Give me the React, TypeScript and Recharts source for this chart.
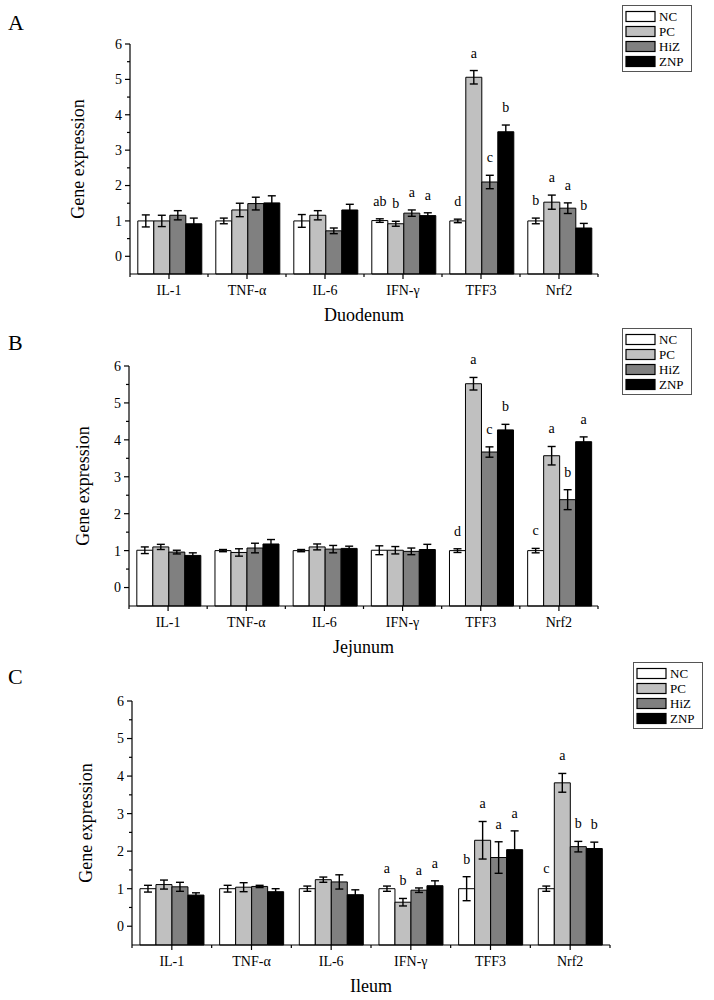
import React from 'react';
import { BarChart, Bar, XAxis, YAxis, ErrorBar, LabelList, Legend, Label } from 'recharts';

const genes = ['IL-1', 'TNF-α', 'IL-6', 'IFN-γ', 'TFF3', 'Nrf2'];
const groups = ['NC', 'PC', 'HiZ', 'ZNP'];
const fills = ['#ffffff', '#c0c0c0', '#808080', '#000000'];
const yTicks = [0, 0.5, 1, 1.5, 2, 2.5, 3, 3.5, 4, 4.5, 5, 5.5, 6];

// Duodenum (panel A)
const duoNC = [1.0, 1.0, 1.0, 1.01, 1.0, 1.0];
const duoPC = [1.0, 1.31, 1.16, 0.92, 5.06, 1.53];
const duoHiZ = [1.16, 1.49, 0.72, 1.22, 2.1, 1.36];
const duoZNP = [0.92, 1.51, 1.31, 1.15, 3.52, 0.8];
const duoNCErr = [0.17, 0.08, 0.18, 0.05, 0.05, 0.08];
const duoPCErr = [0.16, 0.19, 0.13, 0.07, 0.19, 0.2];
const duoHiZErr = [0.13, 0.18, 0.08, 0.09, 0.19, 0.15];
const duoZNPErr = [0.16, 0.2, 0.16, 0.08, 0.19, 0.13];
const duoNCSig = ['', '', '', 'ab', 'd', 'b'];
const duoPCSig = ['', '', '', 'b', 'a', 'a'];
const duoHiZSig = ['', '', '', 'a', 'c', 'a'];
const duoZNPSig = ['', '', '', 'a', 'b', 'b'];

// Jejunum (panel B)
const jejNC = [1.01, 1.0, 1.0, 1.01, 1.0, 1.0];
const jejPC = [1.1, 0.95, 1.1, 1.01, 5.52, 3.57];
const jejHiZ = [0.96, 1.07, 1.04, 0.98, 3.67, 2.38];
const jejZNP = [0.87, 1.18, 1.06, 1.03, 4.27, 3.95];
const jejNCErr = [0.09, 0.03, 0.03, 0.12, 0.05, 0.06];
const jejPCErr = [0.07, 0.1, 0.08, 0.1, 0.17, 0.25];
const jejHiZErr = [0.05, 0.13, 0.1, 0.09, 0.14, 0.27];
const jejZNPErr = [0.07, 0.12, 0.06, 0.14, 0.15, 0.13];
const jejNCSig = ['', '', '', '', 'd', 'c'];
const jejPCSig = ['', '', '', '', 'a', 'a'];
const jejHiZSig = ['', '', '', '', 'c', 'b'];
const jejZNPSig = ['', '', '', '', 'b', 'a'];

// Ileum (panel C)
const ileNC = [1.0, 1.0, 1.0, 1.0, 1.0, 1.0];
const ilePC = [1.11, 1.04, 1.24, 0.64, 2.29, 3.82];
const ileHiZ = [1.05, 1.06, 1.18, 0.96, 1.83, 2.12];
const ileZNP = [0.83, 0.92, 0.84, 1.08, 2.04, 2.07];
const ileNCErr = [0.09, 0.09, 0.07, 0.07, 0.32, 0.07];
const ilePCErr = [0.12, 0.12, 0.07, 0.1, 0.5, 0.25];
const ileHiZErr = [0.12, 0.03, 0.19, 0.06, 0.42, 0.14];
const ileZNPErr = [0.06, 0.08, 0.13, 0.13, 0.5, 0.17];
const ileNCSig = ['', '', '', 'a', 'b', 'c'];
const ilePCSig = ['', '', '', 'b', 'a', 'a'];
const ileHiZSig = ['', '', '', 'a', 'a', 'b'];
const ileZNPSig = ['', '', '', 'a', 'a', 'b'];

const FONT = '"Times New Roman", "Liberation Serif", serif';
const Y_MIN = -0.5;
const Y_MAX = 6;

const buildRows = (vals: number[][], errs: number[][], sigs: string[][]) =>
  genes.map((gene, i) => {
    const row: any = { gene };
    groups.forEach((g, j) => {
      row[g] = vals[j][i];
      row[g + 'Err'] = errs[j][i];
      row[g + 'Sig'] = sigs[j][i];
    });
    return row;
  });

const duoRows = buildRows(
  [duoNC, duoPC, duoHiZ, duoZNP],
  [duoNCErr, duoPCErr, duoHiZErr, duoZNPErr],
  [duoNCSig, duoPCSig, duoHiZSig, duoZNPSig]
);
const jejRows = buildRows(
  [jejNC, jejPC, jejHiZ, jejZNP],
  [jejNCErr, jejPCErr, jejHiZErr, jejZNPErr],
  [jejNCSig, jejPCSig, jejHiZSig, jejZNPSig]
);
const ileRows = buildRows(
  [ileNC, ilePC, ileHiZ, ileZNP],
  [ileNCErr, ilePCErr, ileHiZErr, ileZNPErr],
  [ileNCSig, ilePCSig, ileHiZSig, ileZNPSig]
);

const XTick = (props: any) => {
  const { x, y, payload, width, visibleTicksCount, index } = props;
  const half = payload.offset || width / visibleTicksCount / 2;
  return (
    <g>
      <line x1={x} y1={y} x2={x} y2={y + 5} stroke="#000" strokeWidth={1.2} />
      <line x1={x - half} y1={y} x2={x - half} y2={y + 3} stroke="#000" strokeWidth={1.2} />
      {index === visibleTicksCount - 1 && (
        <line x1={x + half} y1={y} x2={x + half} y2={y + 3} stroke="#000" strokeWidth={1.2} />
      )}
      <text x={x} y={y + 11} dy="0.71em" textAnchor="middle" fontSize={14} fontFamily={FONT} fill="#000">
        {payload.value}
      </text>
    </g>
  );
};

const YTick = (props: any) => {
  const { x, y, payload } = props;
  const major = Number.isInteger(payload.value);
  return (
    <g>
      <line x1={x - (major ? 5 : 3)} y1={y} x2={x} y2={y} stroke="#000" strokeWidth={1.2} />
      {major && (
        <text x={x - 8} y={y} dy="0.35em" textAnchor="end" fontSize={14} fontFamily={FONT} fill="#000">
          {payload.value}
        </text>
      )}
    </g>
  );
};

const makeSigLabel = (rows: any[], key: string) => (props: any) => {
  const vb = props.viewBox ?? props;
  const { x, y, width, height } = vb;
  const { value, index } = props;
  if (!value) return null;
  const row = rows[index];
  const pxPerUnit = Math.abs(height) / (row[key] - Y_MIN);
  const capTop = Math.min(y, y + height) - row[key + 'Err'] * pxPerUnit;
  return (
    <text x={x + width / 2} y={capTop - 13} textAnchor="middle" fontSize={14} fontFamily={FONT} fill="#000">
      {value}
    </text>
  );
};

const LegendBox = ({ payload }: any) => {
  const items = [...(payload || [])].sort((a, b) => groups.indexOf(a.value) - groups.indexOf(b.value));
  return (
    <svg width={70} height={67} style={{ display: 'block' }}>
      <rect x={0.5} y={0.5} width={69} height={66} fill="#fff" stroke="#555" />
      {items.map((p: any, i: number) => (
        <g key={p.value}>
          <rect x={4} y={6.5 + 15 * i} width={29} height={10} fill={p.color} stroke="#000" strokeWidth={1.2} />
          <text x={37} y={16 + 15 * i} fontSize={13} fontFamily={FONT} fill="#000">
            {p.value}
          </text>
        </g>
      ))}
    </svg>
  );
};

type PanelCfg = {
  rows: any[];
  tissue: string;
  top: number;
  height: number;
  plotLeft: number;
  plotRight: number;
  plotTop: number;
  plotBottom: number;
  yLabelX: number;
  legendLeft: number;
  legendTop: number;
};

const Panel = ({ cfg }: { cfg: PanelCfg }) => {
  const yAxisWidth = 40;
  const xAxisHeight = 30;
  return (
    <div style={{ position: 'absolute', left: 0, top: cfg.top, width: 714, height: cfg.height }}>
      <BarChart
        width={714}
        height={cfg.height}
        data={cfg.rows}
        barGap={0}
        barCategoryGap="10%"
        margin={{
          top: cfg.plotTop,
          right: 714 - cfg.plotRight,
          left: cfg.plotLeft - yAxisWidth,
          bottom: cfg.height - cfg.plotBottom - xAxisHeight,
        }}
      >
        <XAxis
          dataKey="gene"
          height={xAxisHeight}
          interval={0}
          tickLine={false}
          tickSize={0}
          tickMargin={0}
          axisLine={{ stroke: '#000', strokeWidth: 1.2 }}
          tick={<XTick />}
        >
          <Label value={cfg.tissue} position="bottom" offset={4} fontSize={18} fontFamily={FONT} fill="#000" />
        </XAxis>
        <YAxis
          type="number"
          width={yAxisWidth}
          domain={[Y_MIN, Y_MAX]}
          ticks={yTicks}
          interval={0}
          tickLine={false}
          tickSize={0}
          tickMargin={0}
          axisLine={{ stroke: '#000', strokeWidth: 1.2 }}
          tick={<YTick />}
        >
          <Label
            content={({ viewBox }: any) => {
              const cy = viewBox.y + viewBox.height / 2;
              return (
                <text
                  transform={`translate(${cfg.yLabelX},${cy}) rotate(-90)`}
                  textAnchor="middle"
                  dominantBaseline="central"
                  fontSize={18}
                  fontFamily={FONT}
                  fill="#000"
                >
                  Gene expression
                </text>
              );
            }}
          />
        </YAxis>
        <Legend
          layout="horizontal"
          align="center"
          verticalAlign="middle"
          content={<LegendBox />}
          wrapperStyle={{ left: cfg.legendLeft, top: cfg.legendTop, width: 70, height: 67 }}
        />
        {groups.map((g, j) => (
          <Bar
            key={g}
            name={g}
            dataKey={(d: any) => [Y_MIN, d[g]]}
            fill={fills[j]}
            stroke="#000"
            strokeWidth={1}
            isAnimationActive={false}
          >
            <ErrorBar dataKey={g + 'Err'} width={4} stroke="#000" strokeWidth={1.4} direction="y" />
            <LabelList dataKey={g + 'Sig'} content={makeSigLabel(cfg.rows, g)} />
          </Bar>
        ))}
      </BarChart>
    </div>
  );
};

const panels: PanelCfg[] = [
  { rows: duoRows, tissue: 'Duodenum', top: 0, height: 330, plotLeft: 130, plotRight: 598, plotTop: 44, plotBottom: 274, yLabelX: 78, legendLeft: 622, legendTop: 5 },
  { rows: jejRows, tissue: 'Jejunum', top: 320, height: 340, plotLeft: 129, plotRight: 598, plotTop: 46, plotBottom: 286, yLabelX: 83, legendLeft: 622, legendTop: 8 },
  { rows: ileRows, tissue: 'Ileum', top: 650, height: 350, plotLeft: 132, plotRight: 610, plotTop: 51, plotBottom: 295, yLabelX: 86, legendLeft: 633, legendTop: 12 },
];

const App = () => (
  <div style={{ position: 'absolute', left: 0, top: 0, width: 714, height: 1000, background: '#fff' }}>
    {panels.map((cfg) => (
      <Panel key={cfg.tissue} cfg={cfg} />
    ))}
    <svg width={714} height={1000} style={{ position: 'absolute', left: 0, top: 0, pointerEvents: 'none' }}>
      {['A', 'B', 'C'].map((t, i) => (
        <text key={t} x={8} y={[30, 350, 684][i]} fontSize={22} fontFamily={FONT} fill="#000">
          {t}
        </text>
      ))}
    </svg>
  </div>
);

export default App;
